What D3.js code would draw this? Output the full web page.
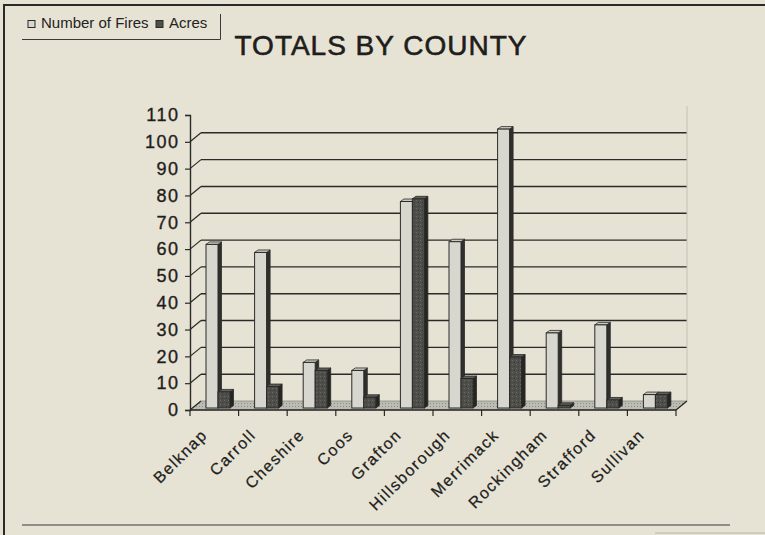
<!DOCTYPE html>
<html>
<head>
<meta charset="utf-8">
<script src="https://cdn.jsdelivr.net/npm/d3@7"></script>
<style>
  html, body { margin: 0; padding: 0; background: #e7e3d4; }
  svg { display: block; font-family: "Liberation Sans", Arial, sans-serif; }
</style>
</head>
<body>
<svg id="grafico"></svg>
<script>
const ancho = 765;
const alto = 535;

// datos
const condados = ["Belknap", "Carroll", "Cheshire", "Coos", "Grafton", "Hillsborough", "Merrimack", "Rockingham", "Strafford", "Sullivan"];
const incendios = [61, 58, 17, 14, 77, 62, 104, 28, 31, 5];
const acres = [6, 8, 14, 4, 78, 11, 19, 1, 3, 5];
const ticksY = [0, 10, 20, 30, 40, 50, 60, 70, 80, 90, 100, 110];
const series = ["Number of Fires", "Acres"];

const colores = {
  fondo: "#e7e3d4",
  linea: "#2a2a28",
  texto: "#1e1e1c",
  fuegoFrente: "#d8d7cf",
  fuegoLado: "#2f2f2d",
  fuegoTecho: "#c9c8c0",
  acreFrente: "#4e4e4b",
  acreLado: "#252523",
  acreTecho: "#5e5e5a",
  piso: "#bdbcb3"
};

const svg = d3.select("#grafico").attr("width", ancho).attr("height", alto);

// textura moteada para las barras oscuras y el piso
const defs = svg.append("defs");
const motas = defs.append("pattern").attr("id", "motas").attr("width", 4).attr("height", 4)
  .attr("patternUnits", "userSpaceOnUse");
motas.append("rect").attr("width", 4).attr("height", 4).attr("fill", colores.acreFrente);
motas.append("rect").attr("x", 0).attr("y", 0).attr("width", 1).attr("height", 1).attr("fill", "#6a6a66");
motas.append("rect").attr("x", 2).attr("y", 2).attr("width", 1).attr("height", 1).attr("fill", "#3a3a38");
const motasPiso = defs.append("pattern").attr("id", "motasPiso").attr("width", 3).attr("height", 3)
  .attr("patternUnits", "userSpaceOnUse");
motasPiso.append("rect").attr("width", 3).attr("height", 3).attr("fill", colores.piso);
motasPiso.append("rect").attr("x", 1).attr("y", 1).attr("width", 1).attr("height", 1).attr("fill", "#8d8c86");

const x = d3.scaleBand().domain(condados).range([190, 676]);
const y = d3.scaleLinear().domain([0, 110]).range([410, 115]);
const prof = [11, -9];

svg.append("rect").attr("width", ancho).attr("height", alto).attr("fill", colores.fondo);

// marco
svg.append("line").attr("x1", 4).attr("y1", 5).attr("x2", ancho).attr("y2", 5)
  .attr("stroke", colores.linea).attr("stroke-width", 2);
svg.append("line").attr("x1", 4).attr("y1", 4).attr("x2", 4).attr("y2", alto)
  .attr("stroke", colores.linea).attr("stroke-width", 2);
svg.append("line").attr("x1", 22).attr("y1", 525).attr("x2", 730).attr("y2", 525)
  .attr("stroke", "#3a3a36").attr("stroke-width", 1.2);
svg.append("line").attr("x1", 655).attr("y1", 533).attr("x2", ancho).attr("y2", 533)
  .attr("stroke", "#b8b5a8").attr("stroke-width", 1);

// leyenda
const gLeyenda = svg.append("g");
gLeyenda.append("path").attr("d", "M22,39.5H220.5V14").attr("fill", "none")
  .attr("stroke", "#3a3a36").attr("stroke-width", 1);
const itemsLeyenda = [
  { nombre: series[0], x: 28, relleno: colores.fuegoFrente },
  { nombre: series[1], x: 156, relleno: colores.acreFrente }
];
itemsLeyenda.forEach(d => {
  gLeyenda.append("rect").attr("x", d.x).attr("y", 20.5).attr("width", 7).attr("height", 7)
    .attr("fill", d.relleno).attr("stroke", colores.linea).attr("stroke-width", 1);
  gLeyenda.append("text").attr("x", d.x + 13).attr("y", 28).attr("font-size", 15)
    .attr("fill", "#222").text(d.nombre);
});

// titulo
svg.append("text").attr("x", 381).attr("y", 55).attr("text-anchor", "middle")
  .attr("font-size", 28).attr("letter-spacing", 1).attr("fill", colores.texto)
  .attr("stroke", colores.texto).attr("stroke-width", 0.6)
  .text("TOTALS BY COUNTY");

const [x0, x1] = x.range();

// piso
svg.append("polygon")
  .attr("points", [[x0, y(0)], [x1, y(0)], [x1 + prof[0], y(0) + prof[1]], [x0 + prof[0], y(0) + prof[1]]].join(" "))
  .attr("fill", "url(#motasPiso)").attr("stroke", "#8a8984").attr("stroke-width", 0.8);

// rejilla pared del fondo y pared lateral
const gRejilla = svg.append("g");
gRejilla.selectAll("line.fondo").data(ticksY.filter(v => v > 0 && v < 110)).join("line")
  .attr("class", "fondo")
  .attr("x1", x0 + prof[0]).attr("x2", x1 + prof[0])
  .attr("y1", d => y(d) + prof[1]).attr("y2", d => y(d) + prof[1])
  .attr("stroke", colores.linea).attr("stroke-width", 1.4);
gRejilla.selectAll("line.lado").data(ticksY.filter(v => v < 110)).join("line")
  .attr("class", "lado")
  .attr("x1", x0).attr("x2", x0 + prof[0])
  .attr("y1", d => y(d)).attr("y2", d => y(d) + prof[1])
  .attr("stroke", colores.linea).attr("stroke-width", 1.2);
gRejilla.append("line")
  .attr("x1", x1 + prof[0]).attr("x2", x1 + prof[0])
  .attr("y1", y(110) + prof[1]).attr("y2", y(0) + prof[1])
  .attr("stroke", "#c4c1b4").attr("stroke-width", 1);

// eje y
const ejeY = d3.axisLeft(y).tickValues(ticksY).tickSize(5).tickPadding(7);
const gEjeY = svg.append("g").attr("transform", `translate(${x0},0)`).call(ejeY);
gEjeY.select(".domain").attr("stroke", colores.linea).attr("stroke-width", 1.4);
gEjeY.selectAll(".tick line").attr("stroke", colores.linea).attr("stroke-width", 1.2);
gEjeY.selectAll(".tick text")
  .attr("font-size", 18).attr("letter-spacing", 1.5).attr("dx", 1.5)
  .attr("font-family", "'Liberation Sans', Arial, sans-serif").attr("fill", colores.texto)
  .attr("stroke", colores.texto).attr("stroke-width", 0.35);

// barras 3d
const frente = [2, -2];
const fondoBarra = [5.5, -4.5];
const anchoBarra = 12;

function caja(xi, v, cFrente, cLado, cTecho) {
  const bx = xi + frente[0];
  const by0 = y(0) + frente[1];
  const by1 = y(v) + frente[1];
  const dx = fondoBarra[0] - frente[0];
  const dy = fondoBarra[1] - frente[1];
  const g = gBarras.append("g");
  g.append("polygon")
    .attr("points", [[bx + anchoBarra, by0], [bx + anchoBarra + dx, by0 + dy], [bx + anchoBarra + dx, by1 + dy], [bx + anchoBarra, by1]].join(" "))
    .attr("fill", cLado).attr("stroke", colores.linea).attr("stroke-width", 0.8);
  g.append("polygon")
    .attr("points", [[bx, by1], [bx + anchoBarra, by1], [bx + anchoBarra + dx, by1 + dy], [bx + dx, by1 + dy]].join(" "))
    .attr("fill", cTecho).attr("stroke", colores.linea).attr("stroke-width", 0.8);
  g.append("rect")
    .attr("x", bx).attr("y", by1).attr("width", anchoBarra).attr("height", by0 - by1)
    .attr("fill", cFrente).attr("stroke", colores.linea).attr("stroke-width", 1);
}

const gBarras = svg.append("g");
condados.forEach((c, i) => {
  caja(x(c) + 14, incendios[i], colores.fuegoFrente, colores.fuegoLado, colores.fuegoTecho);
  caja(x(c) + 14 + anchoBarra, acres[i], "url(#motas)", colores.acreLado, colores.acreTecho);
});

// eje x
const gEjeX = svg.append("g");
gEjeX.append("line").attr("x1", x0).attr("x2", x1).attr("y1", y(0)).attr("y2", y(0))
  .attr("stroke", colores.linea).attr("stroke-width", 1.4);
gEjeX.append("line").attr("x1", x1).attr("x2", x1 + prof[0]).attr("y1", y(0)).attr("y2", y(0) + prof[1])
  .attr("stroke", colores.linea).attr("stroke-width", 1.2);
gEjeX.selectAll("line.tick").data(condados.concat(["fin"])).join("line")
  .attr("class", "tick")
  .attr("x1", (d, i) => x0 + i * x.bandwidth()).attr("x2", (d, i) => x0 + i * x.bandwidth())
  .attr("y1", y(0)).attr("y2", y(0) + 6)
  .attr("stroke", colores.linea).attr("stroke-width", 1.2);
gEjeX.selectAll("text").data(condados).join("text")
  .attr("transform", d => `translate(${x(d) + x.bandwidth() / 2 - 6},436) rotate(-45)`)
  .attr("text-anchor", "end")
  .attr("font-size", 16).attr("letter-spacing", 1.5)
  .attr("fill", colores.texto).attr("stroke", colores.texto).attr("stroke-width", 0.25)
  .text(d => d);
</script>
</body>
</html>
